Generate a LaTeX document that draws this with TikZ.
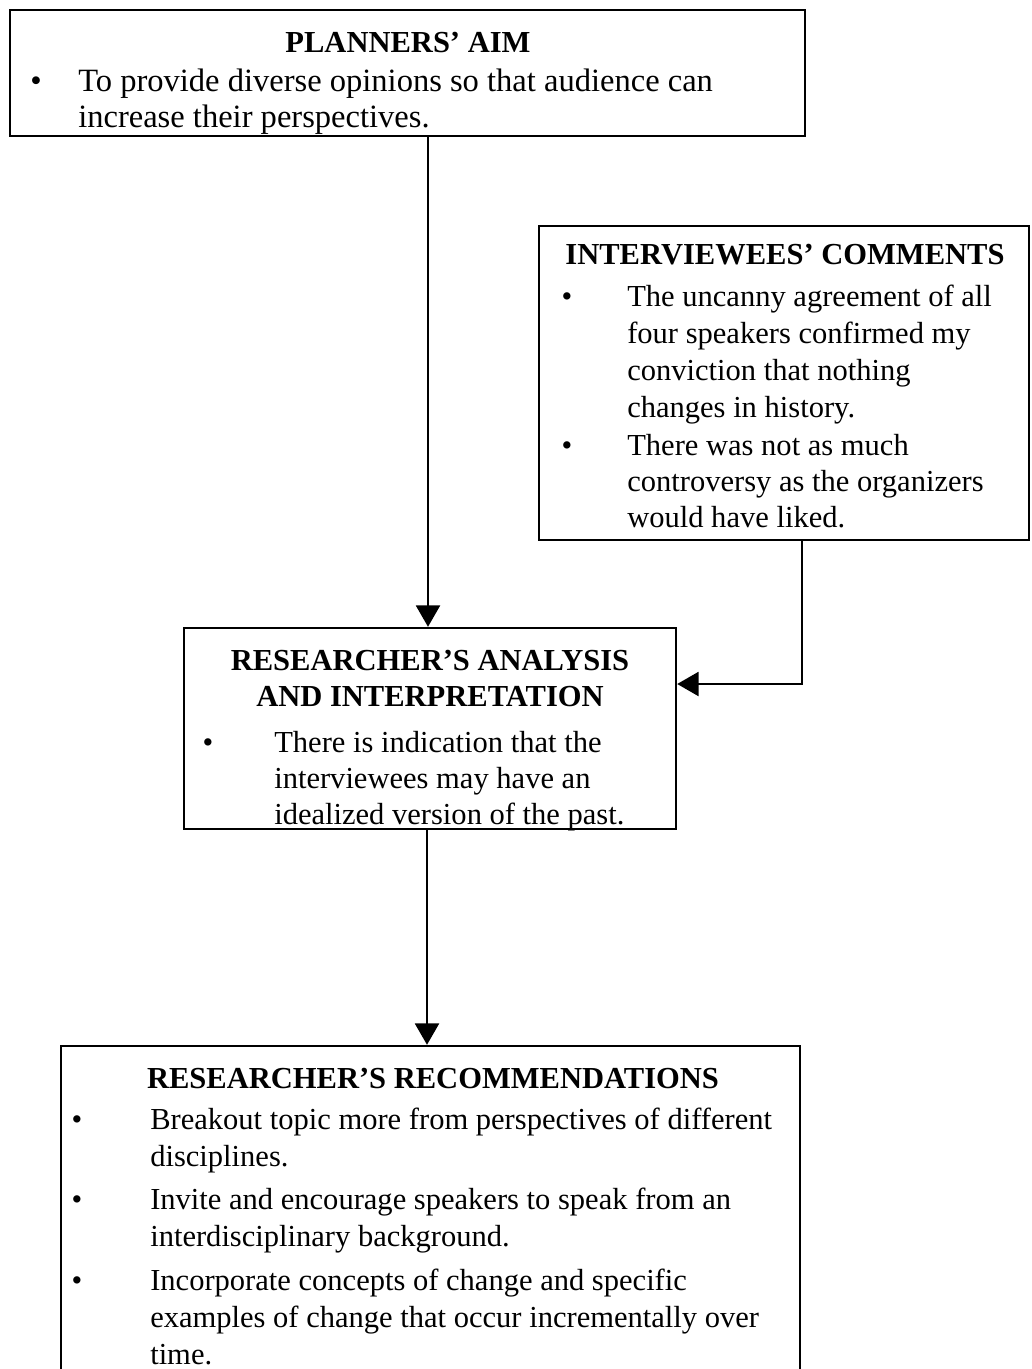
\documentclass[tikz,border=0pt]{standalone}
\usepackage{fontspec}
\setmainfont{Liberation Serif}
\usetikzlibrary{arrows.meta,fit}
\begin{document}
\begin{tikzpicture}[x=0.75pt,y=-0.75pt,
  box/.style={draw,line width=1.8pt,inner sep=0pt},
  ttl/.style={inner sep=0pt,anchor=base,font=\bfseries},
  txt/.style={inner sep=0pt,anchor=base west},
  big/.style={font=\fontsize{24.4pt}{29pt}\selectfont},
  dot/.style={inner sep=0pt,anchor=base},
  arr/.style={line width=1.5pt,-{Triangle[length=16pt,width=18pt]}}]
\fontsize{22.9pt}{27.4pt}\selectfont
\useasboundingbox (0,0) rectangle (1031,1369);
\clip (0,0) rectangle (1031,1369);

% boxes
\node[box,fit={(10,10) (805,136)}] (aim) {};
\node[box,fit={(539,226) (1029,540)}] (com) {};
\node[box,fit={(184,628) (676,829)}] (ana) {};
\node[box,fit={(61,1046) (800,1420)}] (rec) {};

% planners' aim
\node[ttl] (aimt) at (408,53) {PLANNERS’ AIM};
\node[dot,big] (aimb1) at (36,92) {•};
\node[txt,big] (aim1) at (78,92) {To provide diverse opinions so that audience can};
\node[txt,big] (aim2) at (78,128) {increase their perspectives.};

% interviewees' comments
\node[ttl] (comt) at (785,265) {INTERVIEWEES’ COMMENTS};
\node[dot] (comb1) at (567,306) {•};
\node[txt] (com1) at (627,306) {The uncanny agreement of all};
\node[txt] (com2) at (627,343) {four speakers confirmed my};
\node[txt] (com3) at (627,380) {conviction that nothing};
\node[txt] (com4) at (627,417) {changes in history.};
\node[dot] (comb2) at (567,455) {•};
\node[txt] (com5) at (627,455) {There was not as much};
\node[txt] (com6) at (627,491) {controversy as the organizers};
\node[txt] (com7) at (627,527) {would have liked.};

% analysis and interpretation
\node[ttl] (anat1) at (430,670) {RESEARCHER’S ANALYSIS};
\node[ttl] (anat2) at (430,706) {AND INTERPRETATION};
\node[dot] (anab1) at (208,752) {•};
\node[txt] (ana1) at (274,752) {There is indication that the};
\node[txt] (ana2) at (274,788) {interviewees may have an};
\node[txt] (ana3) at (274,824) {idealized version of the past.};

% recommendations
\node[ttl] (rect) at (433,1088) {RESEARCHER’S RECOMMENDATIONS};
\node[dot] (recb1) at (77,1129) {•};
\node[txt] (rec1) at (150,1129) {Breakout topic more from perspectives of different};
\node[txt] (rec2) at (150,1166) {disciplines.};
\node[dot] (recb2) at (77,1209) {•};
\node[txt] (rec3) at (150,1209) {Invite and encourage speakers to speak from an};
\node[txt] (rec4) at (150,1246) {interdisciplinary background.};
\node[dot] (recb3) at (77,1290) {•};
\node[txt] (rec5) at (150,1290) {Incorporate concepts of change and specific};
\node[txt] (rec6) at (150,1327) {examples of change that occur incrementally over};
\node[txt] (rec7) at (150,1364) {time.};

% connectors
\coordinate (x1) at (428,0);
\coordinate (x2) at (802,0);
\coordinate (y2) at (0,684);
\coordinate (x3) at (427,0);
\draw[arr] (aim.south -| x1) -- (ana.north -| x1);
\draw[arr] (com.south -| x2) |- (ana.east |- y2);
\draw[arr] (ana.south -| x3) -- (rec.north -| x3);
\end{tikzpicture}
\end{document}
